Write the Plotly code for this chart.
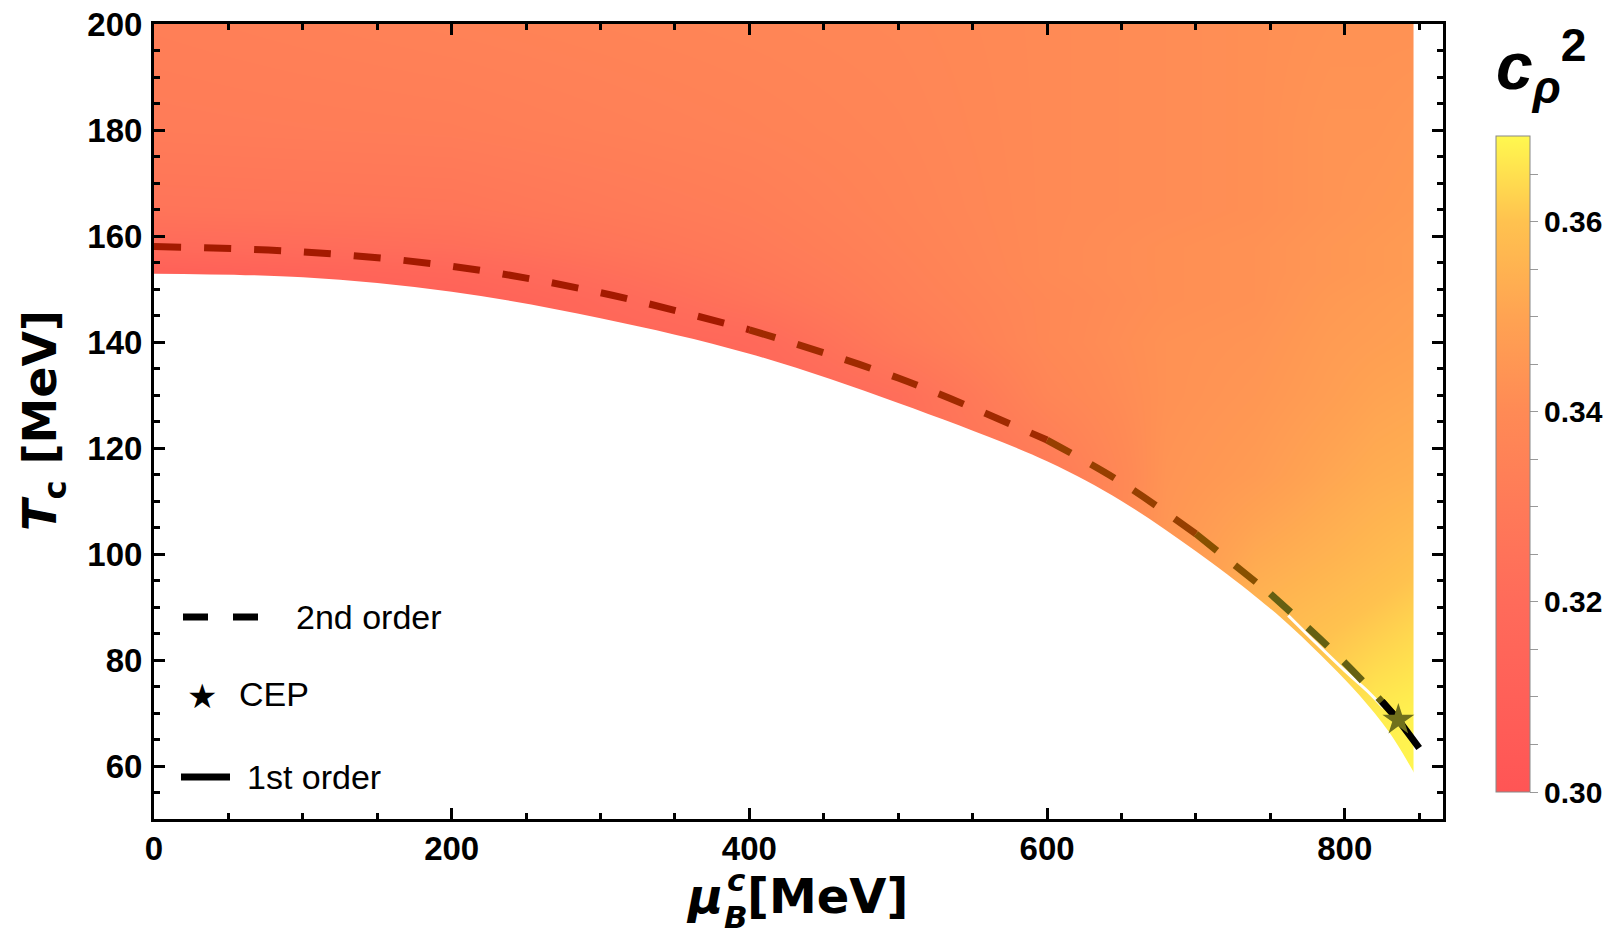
import plotly.graph_objects as go

# ---------------- data ----------------
# c_rho^2 field (rows: T, columns: mu_B)
mu_grid = [0, 200, 400, 500, 600, 680, 740, 790, 820, 850]
T_grid = [55, 70, 85, 100, 115, 130, 140, 148, 153, 158, 165, 180, 200]
cs2 = [
    [0.310, 0.311, 0.315, 0.320, 0.330, 0.345, 0.357, 0.364, 0.368, 0.369],
    [0.310, 0.311, 0.315, 0.320, 0.330, 0.345, 0.357, 0.364, 0.367, 0.368],
    [0.310, 0.311, 0.315, 0.320, 0.330, 0.345, 0.357, 0.360, 0.362, 0.364],
    [0.310, 0.311, 0.315, 0.320, 0.330, 0.345, 0.352, 0.355, 0.357, 0.359],
    [0.310, 0.311, 0.315, 0.320, 0.330, 0.344, 0.347, 0.351, 0.353, 0.354],
    [0.310, 0.311, 0.315, 0.322, 0.337, 0.343, 0.345, 0.348, 0.350, 0.351],
    [0.310, 0.311, 0.318, 0.330, 0.339, 0.343, 0.344, 0.347, 0.348, 0.349],
    [0.310, 0.311, 0.325, 0.333, 0.339, 0.342, 0.343, 0.346, 0.347, 0.348],
    [0.310, 0.316, 0.328, 0.334, 0.340, 0.342, 0.343, 0.345, 0.346, 0.347],
    [0.319, 0.322, 0.330, 0.335, 0.340, 0.342, 0.343, 0.345, 0.346, 0.347],
    [0.326, 0.327, 0.332, 0.336, 0.340, 0.341, 0.342, 0.344, 0.345, 0.346],
    [0.331, 0.332, 0.335, 0.337, 0.340, 0.341, 0.342, 0.344, 0.344, 0.345],
    [0.333, 0.335, 0.337, 0.338, 0.340, 0.341, 0.342, 0.343, 0.343, 0.343],
]

# lower edge of the coloured region
bnd_mu = [0, 100, 200, 300, 400, 500, 600, 650, 700, 740, 765, 790, 810, 830, 847]
bnd_T = [152.9, 152.2, 149.5, 144.5, 137.8, 128.5, 117.5, 110.0, 100.5, 92.0,
         86.0, 79.2, 73.3, 66.3, 58.5]

# thin white sliver close to the CEP
gap_mu = [762, 780, 800, 815, 826]
gap_T = [88.4, 83.4, 78.0, 74.2, 71.0]

# 2nd order (crossover) line
dash_mu = [0, 100, 200, 300, 400, 500, 600, 650, 700, 750, 800, 836]
dash_T = [158.0, 157.0, 154.3, 149.3, 142.3, 133.2, 121.5, 113.5, 103.8, 92.5, 79.5, 68.7]
dash_segments = [(0, 4, "#A41A00"), (4, 6, "#A02A00"), (6, 8, "#973F00"),
                 (8, 9, "#885000"), (9, 11, "#656012")]

# 1st order line and CEP
first_mu = [825, 836, 850]
first_T = [72.2, 68.7, 63.4]
cep_mu = [836]
cep_T = [68.7]

cb_min, cb_max = 0.30, 0.369
cb_colors = [(0.30, "#FF5555"), (0.31, "#FF6058"), (0.32, "#FF6B5A"), (0.33, "#FF7A58"),
             (0.34, "#FF8A55"), (0.35, "#FFA352"), (0.36, "#FFC24F"), (0.369, "#FFF84F")]
cb_tickvals = [0.300, 0.305, 0.310, 0.315, 0.320, 0.325, 0.330, 0.335,
               0.340, 0.345, 0.350, 0.355, 0.360, 0.365]
cb_ticktext = ["0.30", "", "", "", "0.32", "", "", "", "0.34", "", "", "", "0.36", ""]

FONT = "Liberation Sans, Arial, Helvetica, sans-serif"
TFONT = "DejaVu Sans, Liberation Sans, sans-serif"

colorscale = [[(v - cb_min) / (cb_max - cb_min), c] for v, c in cb_colors]

fig = go.Figure()

fig.add_trace(go.Heatmap(
    x=mu_grid, y=T_grid, z=cs2, zsmooth="best",
    colorscale=colorscale, zmin=cb_min, zmax=cb_max,
    hoverinfo="skip",
    colorbar=dict(
        x=1.0411, xanchor="left", xpad=0,
        y=0.4465, yanchor="middle", ypad=0,
        len=0.825, lenmode="fraction", thickness=34,
        outlinewidth=1, outlinecolor="#888888",
        tickvals=cb_tickvals, ticktext=cb_ticktext,
        ticks="outside", ticklen=8, tickwidth=1, tickcolor="#999999",
        tickfont=dict(family=FONT, size=30, color="black", weight="bold"),
    ),
))

# white area below the boundary
fig.add_trace(go.Scatter(
    x=bnd_mu, y=bnd_T, mode="lines", line=dict(width=0, shape="spline", color="white"),
    fill="tozeroy", fillcolor="white", hoverinfo="skip", showlegend=False))
# white area right of the computed region
edge = bnd_mu[-1] - 0.8
fig.add_trace(go.Scatter(
    x=[edge, 900, 900, edge], y=[0, 0, 250, 250],
    mode="lines", line=dict(width=0), fill="toself", fillcolor="white",
    hoverinfo="skip", showlegend=False))
# white sliver
fig.add_trace(go.Scatter(
    x=gap_mu, y=gap_T, mode="lines", line=dict(width=3, color="white", shape="spline"),
    hoverinfo="skip", showlegend=False))

# dashed 2nd order line, coloured in pieces
for i0, i1, col in dash_segments:
    fig.add_trace(go.Scatter(
        x=dash_mu[i0:i1 + 1], y=dash_T[i0:i1 + 1], mode="lines",
        line=dict(color=col, width=7, dash="27px,23px", shape="spline"),
        hoverinfo="skip", showlegend=False))

fig.add_trace(go.Scatter(
    x=first_mu, y=first_T, mode="lines", line=dict(color="black", width=7),
    hoverinfo="skip", showlegend=False))
fig.add_trace(go.Scatter(
    x=cep_mu, y=cep_T, mode="markers",
    marker=dict(symbol="star", size=24, color="#70701C", line=dict(width=0)),
    hoverinfo="skip", showlegend=False))

axis_common = dict(
    showline=True, linewidth=3, linecolor="black", mirror="allticks",
    ticks="inside", ticklen=11, tickwidth=3, tickcolor="black",
    showgrid=False, zeroline=False, automargin=False, ticklabeloverflow="allow",
    tickfont=dict(family=FONT, size=33, color="black", weight="bold"),
)
fig.update_xaxes(range=[0, 866], tick0=0, dtick=200,
                 minor=dict(dtick=50, ticks="inside", ticklen=6, tickwidth=2.5,
                            tickcolor="black", showgrid=False),
                 ticklabelstandoff=-2, **axis_common)
fig.update_yaxes(range=[50, 200], tick0=0, dtick=20,
                 minor=dict(dtick=5, ticks="inside", ticklen=6, tickwidth=2.5,
                            tickcolor="black", showgrid=False),
                 ticklabelstandoff=2, **axis_common)

# ---- layout helpers (page body margin is removed below) ----
W, H = 1623, 951
L, R, T, B = 154, 180, 24, 132
PW, PH = W - L - R, H - T - B


def px(x):  # page pixel -> paper
    return (x - L) / PW


def py(y):
    return (H - B - y) / PH


ann = []
# axis titles
ann.append(dict(text="<b><i>μ</i></b>", x=px(725), y=py(896), xanchor="right", yanchor="middle",
                font=dict(family=TFONT, size=48, color="black")))
ann.append(dict(text="<b>[MeV]</b>", x=px(745), y=py(896), xanchor="left", yanchor="middle",
                font=dict(family=TFONT, size=48, color="black")))
ann.append(dict(text="<b><i>c</i></b>", x=px(736), y=py(880), xanchor="center", yanchor="middle",
                font=dict(family=TFONT, size=31, color="black")))
ann.append(dict(text="<b><i>B</i></b>", x=px(736), y=py(917), xanchor="center", yanchor="middle",
                font=dict(family=TFONT, size=31, color="black")))
ann.append(dict(text="<b><i>T</i><sub>c</sub> [MeV]</b>", x=px(43), y=py(421), textangle=-90,
                xanchor="center", yanchor="middle",
                font=dict(family=TFONT, size=46, color="black")))
# colorbar title
ann.append(dict(text="<b><i>c</i><sub><i>ρ</i></sub><sup>2</sup></b>", x=px(1541), y=py(66),
                xanchor="center", yanchor="middle",
                font=dict(family=FONT, size=66, color="black")))
# legend
ann.append(dict(text="2nd order", x=px(294), y=py(617), xanchor="left", yanchor="middle",
                font=dict(family=FONT, size=34, color="black")))
ann.append(dict(text="★", x=px(202), y=py(696), xanchor="center", yanchor="middle",
                font=dict(family="DejaVu Sans", size=34, color="black")))
ann.append(dict(text="CEP", x=px(237), y=py(694), xanchor="left", yanchor="middle",
                font=dict(family=FONT, size=34, color="black")))
ann.append(dict(text="1st order", x=px(245), y=py(777), xanchor="left", yanchor="middle",
                font=dict(family=FONT, size=34, color="black")))
for a in ann:
    a.update(xref="paper", yref="paper", showarrow=False)

shapes = [
    dict(type="line", xref="paper", yref="paper", x0=px(183), x1=px(258), y0=py(617), y1=py(617),
         line=dict(color="black", width=7, dash="25px,25px")),
    dict(type="line", xref="paper", yref="paper", x0=px(181), x1=px(230), y0=py(777), y1=py(777),
         line=dict(color="black", width=7)),
]

fig.update_layout(
    width=W, height=H,
    margin=dict(l=L, r=R, t=T, b=B),
    plot_bgcolor="white", paper_bgcolor="white",
    showlegend=False,
    annotations=ann, shapes=shapes,
    font=dict(family=FONT, color="black"),
)

fig.write_html("out.html",
               config={"displayModeBar": False},
               post_script="document.body.style.margin='0';document.body.style.overflow='hidden';")
